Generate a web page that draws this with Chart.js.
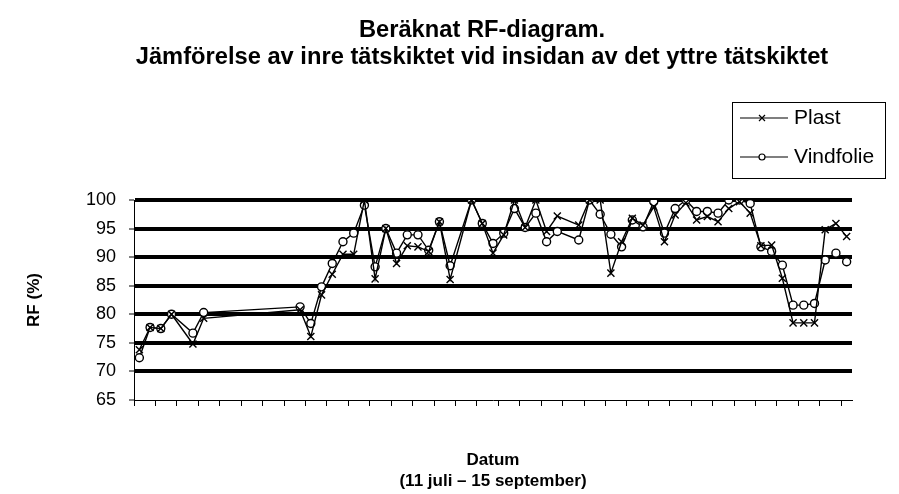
<!DOCTYPE html>
<html>
<head>
<meta charset="utf-8">
<script src="https://cdn.jsdelivr.net/npm/chart.js@4.4.1/dist/chart.umd.min.js"></script>
<style>
html,body{margin:0;padding:0;background:#fff;}
#wrap{width:899px;height:494px;position:relative;}
</style>
</head>
<body>
<div id="wrap"><canvas id="c" width="899" height="494"></canvas></div>
<script>
const titleLines = ['Beräknat RF-diagram.', 'Jämförelse av inre tätskiktet vid insidan av det yttre tätskiktet'];
const xTitle = ['Datum', '(11 juli – 15 september)'];
const yTitle = 'RF (%)';
const seriesNames = ['Plast', 'Vindfolie'];
const yTicks = [65, 70, 75, 80, 85, 90, 95, 100];

const categories = [
 '11 jul','12 jul','13 jul','14 jul','15 jul','16 jul','17 jul','18 jul','19 jul','20 jul',
 '21 jul','22 jul','23 jul','24 jul','25 jul','26 jul','27 jul','28 jul','29 jul','30 jul',
 '31 jul','1 aug','2 aug','3 aug','4 aug','5 aug','6 aug','7 aug','8 aug','9 aug',
 '10 aug','11 aug','12 aug','13 aug','14 aug','15 aug','16 aug','17 aug','18 aug','19 aug',
 '20 aug','21 aug','22 aug','23 aug','24 aug','25 aug','26 aug','27 aug','28 aug','29 aug',
 '30 aug','31 aug','1 sep','2 sep','3 sep','4 sep','5 sep','6 sep','7 sep','8 sep',
 '9 sep','10 sep','11 sep','12 sep','13 sep','14 sep','15 sep'
];

const plast = [
 73.8, 77.7, 77.5, 80.0, null, 74.8, 79.3, null, null, null,
 null, null, null, null, null, 80.8, 76.1, 83.4, 87.0, 90.5,
 90.5, 100, 86.2, 95.0, 88.9, 92.0, 91.8, 91.0, 96.2, 86.1,
 null, 100, 95.9, 90.7, 93.9, 100, 95.2, 100, 94.5, 97.2,
 null, 95.6, 100, 100, 87.2, 92.7, 96.8, 95.6, 98.8, 92.7,
 97.4, 99.5, 96.5, 97.1, 96.2, 98.5, 99.7, 97.7, 92.0, 92.1,
 86.3, 78.5, 78.5, 78.5, 94.8, 95.9, 93.6
];

const vindfolie = [
 72.4, 77.7, 77.5, 80.0, null, 76.7, 80.3, null, null, null,
 null, null, null, null, null, 81.3, 78.4, 84.8, 88.9, 92.7,
 94.2, 99.1, 88.3, 95.0, 90.7, 93.9, 93.9, 91.2, 96.2, 88.5,
 null, 100, 95.9, 92.4, 94.2, 98.5, 95.2, 97.7, 92.7, 94.5,
 null, 93.0, 100, 97.5, 94.0, 91.8, 96.5, 95.3, 99.7, 94.2,
 98.5, 100, 98.0, 98.0, 97.7, 100, 100, 99.4, 91.8, 91.0,
 88.6, 81.6, 81.6, 81.9, 89.5, 90.7, 89.2
];

const FONT = '"Liberation Sans", Arial, sans-serif';

const titlePlugin = {
  id: 'manualTitle',
  afterDraw(chart) {
    const ctx = chart.ctx;
    ctx.save();
    ctx.fillStyle = '#000';
    ctx.font = 'bold 23.7px ' + FONT;
    ctx.textAlign = 'center';
    ctx.textBaseline = 'middle';
    ctx.fillText(titleLines[0], 482, 30);
    ctx.fillText(titleLines[1], 482, 57);
    ctx.restore();
  }
};

const boxLegend = {
  id: 'boxLegend',
  afterDraw(chart) {
    const ctx = chart.ctx;
    const x0 = 732, y0 = 102, w = 153, h = 76;
    ctx.save();
    ctx.strokeStyle = '#000';
    ctx.lineWidth = 1;
    ctx.strokeRect(x0 + 0.5, y0 + 0.5, w, h);
    const rows = [118, 157];
    chart.data.datasets.forEach((ds, i) => {
      const y = rows[i];
      ctx.beginPath();
      ctx.lineWidth = 1.2;
      ctx.moveTo(740, y);
      ctx.lineTo(788, y);
      ctx.stroke();
      if (ds.pointStyle === 'crossRot') {
        ctx.beginPath();
        ctx.moveTo(759, y - 3); ctx.lineTo(765, y + 3);
        ctx.moveTo(765, y - 3); ctx.lineTo(759, y + 3);
        ctx.stroke();
      } else {
        ctx.beginPath();
        ctx.fillStyle = '#fff';
        ctx.arc(762, y, 3, 0, Math.PI * 2);
        ctx.fill();
        ctx.stroke();
      }
      ctx.fillStyle = '#000';
      ctx.font = '21px ' + FONT;
      ctx.textAlign = 'left';
      ctx.textBaseline = 'middle';
      ctx.fillText(ds.label, 794, y);
    });
    ctx.restore();
  }
};

new Chart(document.getElementById('c'), {
  type: 'line',
  data: {
    labels: categories,
    datasets: [
      {
        label: seriesNames[0],
        data: plast,
        borderColor: '#000',
        borderWidth: 1.4,
        pointStyle: 'crossRot',
        pointRadius: 5,
        pointBorderWidth: 1.4,
        pointBorderColor: '#000',
        pointBackgroundColor: '#000',
        spanGaps: true,
        tension: 0
      },
      {
        label: seriesNames[1],
        data: vindfolie,
        borderColor: '#000',
        borderWidth: 1.4,
        pointStyle: 'circle',
        pointRadius: 4,
        pointBorderWidth: 1.4,
        pointBorderColor: '#000',
        pointBackgroundColor: '#fff',
        spanGaps: true,
        tension: 0
      }
    ]
  },
  options: {
    responsive: false,
    animation: false,
    devicePixelRatio: 1,
    layout: { padding: { top: 200, right: 47, bottom: 0, left: 0 } },
    plugins: {
      legend: { display: false },
      title: { display: false },
      tooltip: { enabled: false }
    },
    scales: {
      x: {
        type: 'category',
        offset: true,
        afterFit(s) { s.height = 94; },
        grid: {
          display: true,
          offset: true,
          drawOnChartArea: true,
          drawTicks: true,
          tickLength: 6,
          lineWidth: 1,
          color: (c) => c.index === categories.length ? '#000' : 'rgba(0,0,0,0)',
          tickColor: (c) => (c.index % 2 === 0 && c.index < categories.length) ? '#000' : 'rgba(0,0,0,0)',
          tickWidth: 1
        },
        border: { display: true, color: '#000', width: 1 },
        ticks: { display: false, autoSkip: false },
        title: {
          display: true,
          text: xTitle,
          color: '#000',
          font: { family: FONT, size: 17, weight: 'bold', lineHeight: '21px' },
          padding: { top: 0, bottom: 2.5 }
        }
      },
      y: {
        min: 65,
        max: 100,
        afterFit(s) { s.width = 134; },
        afterBuildTicks(s) { s.ticks = yTicks.map(v => ({ value: v })); },
        grid: {
          color: '#000',
          lineWidth: (c) => (c.tick && c.tick.value === 65) ? 0 : 4,
          drawTicks: true,
          tickLength: 5,
          tickWidth: 1,
          tickColor: '#000'
        },
        border: { display: true, color: '#000', width: 1 },
        ticks: {
          color: '#000',
          padding: 13,
          font: { family: FONT, size: 18 }
        },
        title: {
          display: true,
          text: yTitle,
          color: '#000',
          font: { family: FONT, size: 17, weight: 'bold' },
          padding: { top: 24, bottom: 0 }
        }
      }
    }
  },
  plugins: [titlePlugin, boxLegend]
});
</script>
</body>
</html>
